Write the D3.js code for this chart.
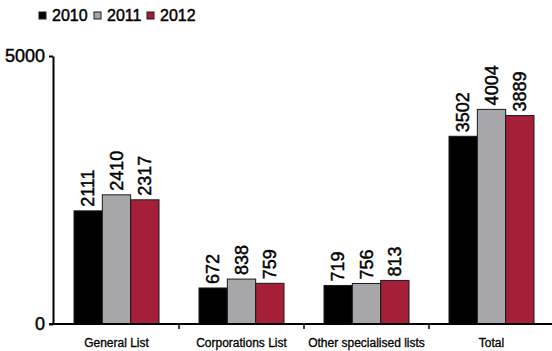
<!DOCTYPE html>
<html><head><meta charset="utf-8">
<script src="https://cdn.jsdelivr.net/npm/d3@7"></script>
<style>body{margin:0;background:#fff}svg{display:block;font-family:"Liberation Sans",Arial,sans-serif}
text{stroke:#000;stroke-width:0.45px}</style>
</head><body>
<script>
const categories = ["General List", "Corporations List", "Other specialised lists", "Total"];
const years = ["2010", "2011", "2012"];
const values2010 = [2111, 672, 719, 3502];
const values2011 = [2410, 838, 756, 4004];
const values2012 = [2317, 759, 813, 3889];
const yTicks = [0, 5000];
const colors = ["#000000", "#a7a7a9", "#a41f37"];

const series = [values2010, values2011, values2012];
const W = 552, H = 351;
const svg = d3.select("body").append("svg").attr("width", W).attr("height", H);

const x0 = d3.scaleBand().domain(categories).range([54, 554]).padding(0);
const x1 = d3.scaleBand().domain(years).range([20, 105]).padding(0);
const y = d3.scaleLinear().domain([0, 5000]).range([324, 56]);

// bars
categories.forEach((c, ci) => {
  const g = svg.append("g").attr("transform", `translate(${x0(c)},0)`);
  years.forEach((yr, si) => {
    const v = series[si][ci];
    g.append("rect")
      .attr("x", x1(yr)).attr("y", y(v))
      .attr("width", x1.bandwidth()).attr("height", y(0) - y(v))
      .attr("fill", colors[si]).attr("stroke", "#1a1a1a").attr("stroke-width", 1);
    g.append("text")
      .attr("transform", `translate(${x1(yr) + x1.bandwidth() / 2 + 6},${y(v) - 4}) rotate(-90)`)
      .attr("font-size", 18).attr("fill", "#000").text(v);
  });
});

// y axis
const yAxis = svg.append("g").attr("transform", "translate(53,0)")
  .call(d3.axisLeft(y).tickValues(yTicks).tickSize(4).tickSizeOuter(0).tickPadding(4).tickFormat(d3.format("d")));
yAxis.select(".domain").attr("stroke", "#000").attr("stroke-width", 2);
yAxis.selectAll(".tick line").attr("stroke", "#000").attr("stroke-width", 2);
yAxis.selectAll("text").attr("font-size", 18).attr("fill", "#000").attr("font-family", "Liberation Sans, Arial, sans-serif");

// x axis
const xAxis = svg.append("g").attr("transform", "translate(0,324)")
  .call(d3.axisBottom(x0).tickSize(0).tickPadding(14));
xAxis.select(".domain").remove();
xAxis.append("line").attr("x1", 49).attr("x2", 552).attr("stroke", "#000").attr("stroke-width", 2);
xAxis.selectAll(".tick text").attr("font-size", 12).attr("fill", "#000").attr("font-family", "Liberation Sans, Arial, sans-serif").style("stroke-width", "0.3px");
categories.slice(1).forEach(c => {
  xAxis.append("line").attr("x1", x0(c)).attr("x2", x0(c)).attr("y1", 0).attr("y2", 5)
    .attr("stroke", "#000").attr("stroke-width", 1.5);
});

// legend
const legX = [39, 94, 147];
years.forEach((yr, i) => {
  svg.append("rect").attr("x", legX[i]).attr("y", 12).attr("width", 7).attr("height", 7)
    .attr("fill", colors[i]).attr("stroke", "#1a1a1a").attr("stroke-width", 1);
  svg.append("text").attr("x", legX[i] + 13).attr("y", 21).attr("font-size", 16).attr("fill", "#000").text(yr);
});
</script>
</body></html>
